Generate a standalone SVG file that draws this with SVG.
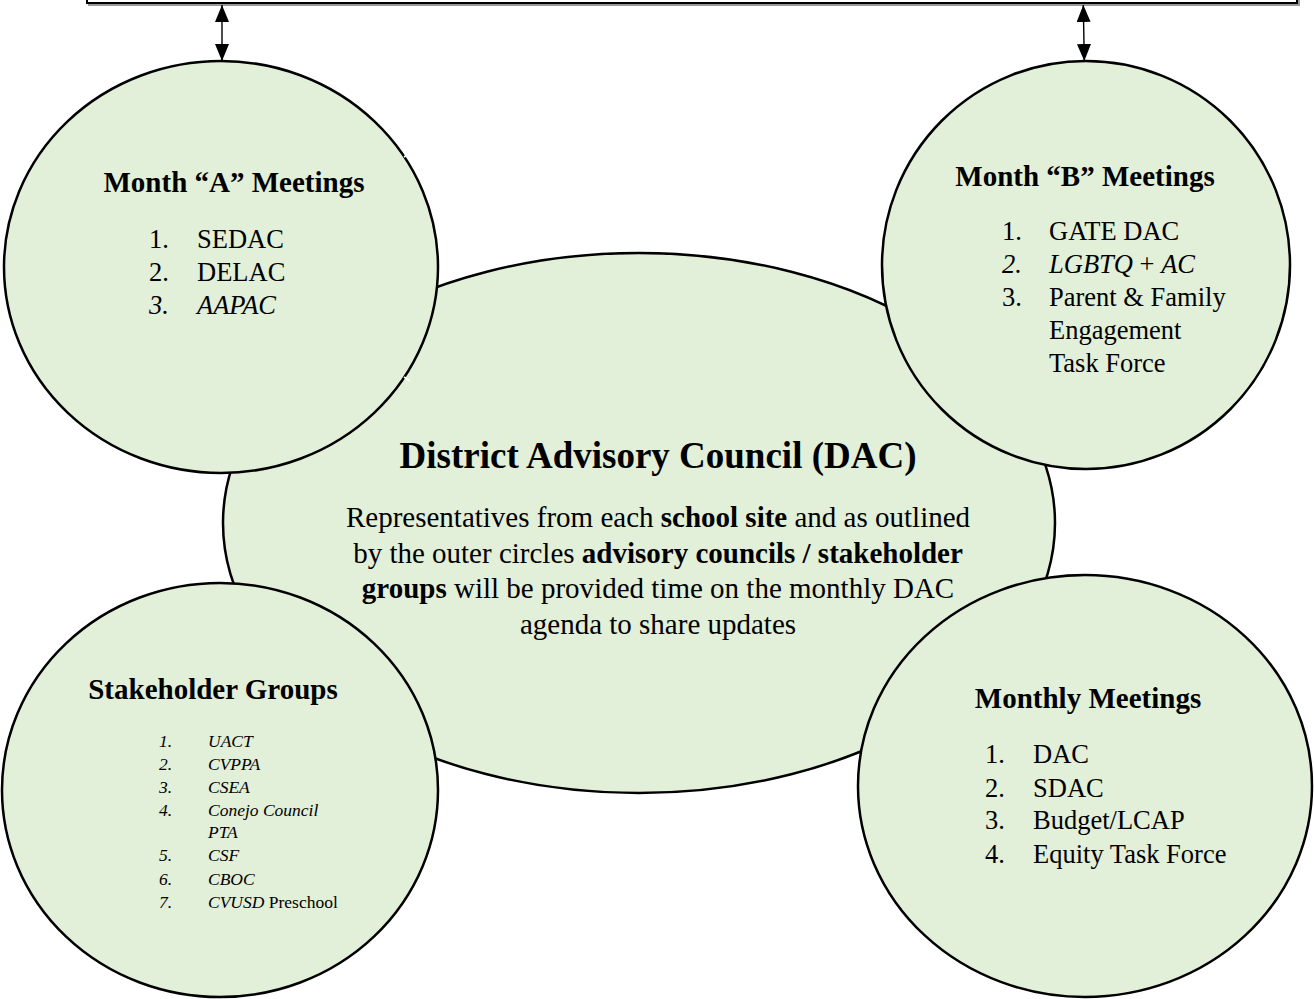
<svg xmlns="http://www.w3.org/2000/svg" width="1314" height="999" viewBox="0 0 1314 999">
<style>
.shape{fill:#e2efd9;stroke:#000;stroke-width:2.5}
text{font-family:"Liberation Serif","Times New Roman",serif;fill:#000}
.ttl{font-size:29px;font-weight:bold;text-anchor:middle}
.li{font-size:26.5px}
.sm{font-size:17.5px;font-style:italic}
.body{font-size:29px;text-anchor:middle}
.b{font-weight:bold}
.i{font-style:italic}
.n{font-style:normal}
.conn{stroke:#000;stroke-width:1.4;fill:none}
.notch{stroke:#fff;stroke-width:1.6}
</style>
<defs>
<marker id="ah" markerUnits="userSpaceOnUse" markerWidth="19" markerHeight="15" refX="17" refY="7" orient="auto-start-reverse">
<path d="M0,0 L17,7 L0,14 z" fill="#000"/>
</marker>
</defs>
<rect width="1314" height="999" fill="#fff"/>
<g id="top-box">
<rect x="89" y="-20" width="1210" height="25" fill="none" stroke="#999" stroke-width="2"/>
<rect x="87" y="-20" width="1210" height="23" fill="#fff" stroke="#000" stroke-width="2"/>
</g>
<g id="connectors">
<line class="conn" x1="222" y1="5" x2="222" y2="61" marker-start="url(#ah)" marker-end="url(#ah)"/>
<line class="conn" x1="1083.3" y1="5" x2="1084.3" y2="61" marker-start="url(#ah)" marker-end="url(#ah)"/>
</g>
<g id="dac">
<ellipse class="shape" cx="639" cy="523" rx="416" ry="270"/>
<text class="ttl" x="658" y="468" style="font-size:37px">District Advisory Council (DAC)</text>
<text class="body" x="658" y="527">Representatives from each <tspan class="b">school site</tspan> and as outlined</text>
<text class="body" x="658" y="563">by the outer circles <tspan class="b">advisory councils / stakeholder</tspan></text>
<text class="body" x="658" y="598"><tspan class="b">groups</tspan> will be provided time on the monthly DAC</text>
<text class="body" x="658" y="634">agenda to share updates</text>
</g>
<g id="month-a">
<ellipse class="shape" cx="221" cy="267" rx="217" ry="206"/>
<line class="notch" x1="404" y1="157" x2="410" y2="153"/>
<line class="notch" x1="404" y1="377" x2="410" y2="381"/>
<text class="ttl" x="234" y="192">Month “A” Meetings</text>
<text class="li" x="149" y="248">1.</text><text class="li" x="197" y="248">SEDAC</text>
<text class="li" x="149" y="281">2.</text><text class="li" x="197" y="281">DELAC</text>
<text class="li i" x="149" y="314">3.</text><text class="li i" x="197" y="314">AAPAC</text>
</g>
<g id="month-b">
<ellipse class="shape" cx="1086" cy="265" rx="204" ry="204"/>
<text class="ttl" x="1085" y="186">Month “B” Meetings</text>
<text class="li" x="1002" y="240">1.</text><text class="li" x="1049" y="240">GATE DAC</text>
<text class="li i" x="1002" y="273">2.</text><text class="li" x="1049" y="273"><tspan class="i">LGBTQ</tspan> + <tspan class="i">AC</tspan></text>
<text class="li" x="1002" y="306">3.</text><text class="li" x="1049" y="306">Parent &amp; Family</text>
<text class="li" x="1049" y="339">Engagement</text>
<text class="li" x="1049" y="372">Task Force</text>
</g>
<g id="stakeholder-groups">
<ellipse class="shape" cx="220" cy="790" rx="218" ry="207"/>
<text class="ttl" x="213" y="699">Stakeholder Groups</text>
<text class="sm" x="159" y="747">1.</text><text class="sm" x="208" y="747">UACT</text>
<text class="sm" x="159" y="770">2.</text><text class="sm" x="208" y="770">CVPPA</text>
<text class="sm" x="159" y="793">3.</text><text class="sm" x="208" y="793">CSEA</text>
<text class="sm" x="159" y="816">4.</text><text class="sm" x="208" y="816">Conejo Council</text>
<text class="sm" x="208" y="838">PTA</text>
<text class="sm" x="159" y="861">5.</text><text class="sm" x="208" y="861">CSF</text>
<text class="sm" x="159" y="885">6.</text><text class="sm" x="208" y="885">CBOC</text>
<text class="sm" x="159" y="908">7.</text><text class="sm" x="208" y="908">CVUSD <tspan class="n">Preschool</tspan></text>
</g>
<g id="monthly-meetings">
<ellipse class="shape" cx="1085" cy="786" rx="227" ry="211"/>
<text class="ttl" x="1088" y="708">Monthly Meetings</text>
<text class="li" x="985" y="763">1.</text><text class="li" x="1033" y="763">DAC</text>
<text class="li" x="985" y="797">2.</text><text class="li" x="1033" y="797">SDAC</text>
<text class="li" x="985" y="829">3.</text><text class="li" x="1033" y="829">Budget/LCAP</text>
<text class="li" x="985" y="863">4.</text><text class="li" x="1033" y="863">Equity Task Force</text>
</g>
</svg>
